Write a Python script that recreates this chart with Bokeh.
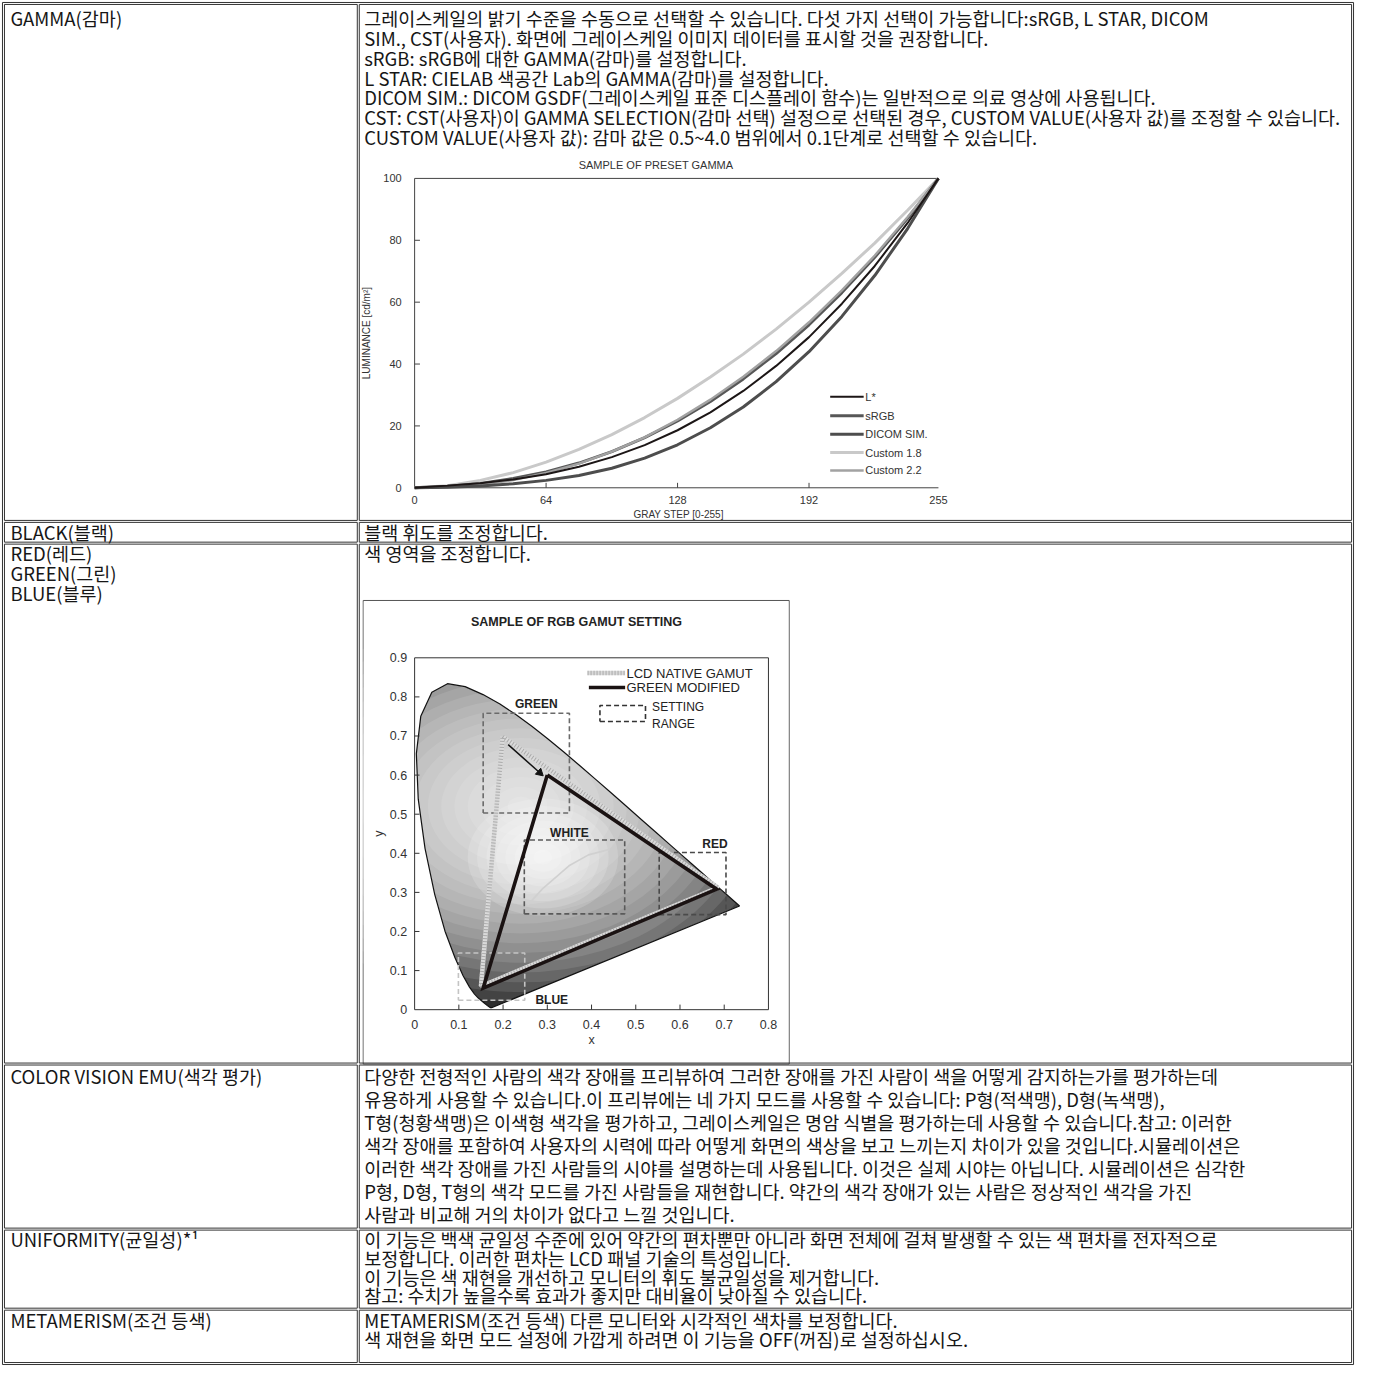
import math
from bokeh.plotting import figure
from bokeh.models import Range1d
from bokeh.core.properties import value
from bokeh.embed import file_html
from bokeh.resources import INLINE

# ------------------------------------------------------------------ data
row_labels = [
    ["GAMMA(감마)"],
    ["BLACK(블랙)"],
    ["RED(레드)", "GREEN(그린)", "BLUE(블루)"],
    ["COLOR VISION EMU(색각 평가)"],
    ["UNIFORMITY(균일성)*¹"],
    ["METAMERISM(조건 등색)"],
]
row_texts = [
    ["그레이스케일의 밝기 수준을 수동으로 선택할 수 있습니다. 다섯 가지 선택이 가능합니다:sRGB, L STAR, DICOM",
     "SIM., CST(사용자). 화면에 그레이스케일 이미지 데이터를 표시할 것을 권장합니다.",
     "sRGB: sRGB에 대한 GAMMA(감마)를 설정합니다.",
     "L STAR: CIELAB 색공간 Lab의 GAMMA(감마)를 설정합니다.",
     "DICOM SIM.: DICOM GSDF(그레이스케일 표준 디스플레이 함수)는 일반적으로 의료 영상에 사용됩니다.",
     "CST: CST(사용자)이 GAMMA SELECTION(감마 선택) 설정으로 선택된 경우, CUSTOM VALUE(사용자 값)를 조정할 수 있습니다.",
     "CUSTOM VALUE(사용자 값): 감마 값은 0.5~4.0 범위에서 0.1단계로 선택할 수 있습니다."],
    ["블랙 휘도를 조정합니다."],
    ["색 영역을 조정합니다."],
    ["다양한 전형적인 사람의 색각 장애를 프리뷰하여 그러한 장애를 가진 사람이 색을 어떻게 감지하는가를 평가하는데",
     "유용하게 사용할 수 있습니다.이 프리뷰에는 네 가지 모드를 사용할 수 있습니다: P형(적색맹), D형(녹색맹),",
     "T형(청황색맹)은 이색형 색각을 평가하고, 그레이스케일은 명암 식별을 평가하는데 사용할 수 있습니다.참고: 이러한",
     "색각 장애를 포함하여 사용자의 시력에 따라 어떻게 화면의 색상을 보고 느끼는지 차이가 있을 것입니다.시뮬레이션은",
     "이러한 색각 장애를 가진 사람들의 시야를 설명하는데 사용됩니다. 이것은 실제 시야는 아닙니다. 시뮬레이션은 심각한",
     "P형, D형, T형의 색각 모드를 가진 사람들을 재현합니다. 약간의 색각 장애가 있는 사람은 정상적인 색각을 가진",
     "사람과 비교해 거의 차이가 없다고 느낄 것입니다."],
    ["이 기능은 백색 균일성 수준에 있어 약간의 편차뿐만 아니라 화면 전체에 걸쳐 발생할 수 있는 색 편차를 전자적으로",
     "보정합니다. 이러한 편차는 LCD 패널 기술의 특성입니다.",
     "이 기능은 색 재현을 개선하고 모니터의 휘도 불균일성을 제거합니다.",
     "참고: 수치가 높을수록 효과가 좋지만 대비율이 낮아질 수 있습니다."],
    ["METAMERISM(조건 등색) 다른 모니터와 시각적인 색차를 보정합니다.",
     "색 재현을 화면 모드 설정에 가깝게 하려면 이 기능을 OFF(꺼짐)로 설정하십시오."],
]

# gamma chart
gamma_title = "SAMPLE OF PRESET GAMMA"
gray_steps = [0, 16, 32, 48, 64, 80, 96, 112, 128, 144, 160, 176, 192, 208, 224, 240, 255]
lum_lstar = [0, 0.7, 1.5, 2.7, 4.4, 6.8, 9.9, 13.8, 18.6, 24.4, 31.3, 39.4, 48.7, 59.5, 71.7, 85.6, 100]
lum_srgb = [0, 0.5, 1.4, 3.0, 5.1, 8.0, 11.7, 16.2, 21.6, 27.9, 35.2, 43.4, 52.7, 63.1, 74.5, 87.1, 100]
lum_dicom = [0, 0.2, 0.6, 1.3, 2.4, 4.0, 6.3, 9.6, 13.9, 19.4, 26.1, 34.3, 44.0, 55.4, 68.6, 83.8, 100]
lum_c18 = [0, 0.7, 2.4, 4.9, 8.3, 12.4, 17.2, 22.7, 28.9, 35.8, 43.2, 51.3, 60.0, 69.3, 79.1, 89.7, 100]
lum_c22 = [0, 0.2, 1.0, 2.5, 4.8, 7.8, 11.7, 16.3, 22.0, 28.5, 35.9, 44.2, 53.5, 63.8, 75.1, 87.5, 100]
gamma_series = ["Custom 1.8", "sRGB", "Custom 2.2", "DICOM SIM.", "L*"]
legend_order = ["L*", "sRGB", "DICOM SIM.", "Custom 1.8", "Custom 2.2"]
gamma_xticks = [0, 64, 128, 192, 255]
gamma_yticks = [0, 20, 40, 60, 80, 100]

# gamut chart
gamut_title = "SAMPLE OF RGB GAMUT SETTING"
locus_x = [0.1741, 0.1714, 0.1644, 0.1566, 0.1440, 0.1355, 0.1241, 0.1096, 0.0913, 0.0687, 0.0454,
           0.0235, 0.0082, 0.0039, 0.0139, 0.0389, 0.0743, 0.1142, 0.1547, 0.1929, 0.2296, 0.2658,
           0.3016, 0.3373, 0.3731, 0.4087, 0.4441, 0.4788, 0.5125, 0.5448, 0.5752, 0.6029, 0.6270,
           0.6482, 0.6658, 0.6801, 0.6915, 0.7079, 0.7347]
locus_y = [0.0050, 0.0051, 0.0109, 0.0177, 0.0297, 0.0399, 0.0578, 0.0868, 0.1327, 0.2007, 0.2950,
           0.4127, 0.5384, 0.6548, 0.7502, 0.8120, 0.8338, 0.8262, 0.8059, 0.7816, 0.7543, 0.7243,
           0.6923, 0.6589, 0.6245, 0.5896, 0.5547, 0.5202, 0.4866, 0.4544, 0.4242, 0.3965, 0.3725,
           0.3514, 0.3340, 0.3197, 0.3083, 0.2920, 0.2653]
native_x = [0.199, 0.686, 0.150, 0.199]
native_y = [0.698, 0.312, 0.060, 0.698]
modified_x = [0.300, 0.683, 0.155, 0.300]
modified_y = [0.600, 0.308, 0.055, 0.600]
planck_x = [0.256, 0.289, 0.349, 0.393, 0.441]
planck_y = [0.268, 0.309, 0.368, 0.396, 0.410]
arrow_x = [0.2115, 0.283]
arrow_y = [0.678, 0.606]
box_names = ["GREEN", "WHITE", "RED", "BLUE"]
box_x0 = [0.155, 0.248, 0.553, 0.099]
box_x1 = [0.350, 0.475, 0.704, 0.249]
box_y0 = [0.503, 0.245, 0.243, 0.024]
box_y1 = [0.758, 0.434, 0.402, 0.145]
box_label_x = [0.275, 0.350, 0.679, 0.310]
box_label_y = [0.782, 0.451, 0.424, 0.024]
gamut_xticks = [0, 0.1, 0.2, 0.3, 0.4, 0.5, 0.6, 0.7, 0.8]
gamut_yticks = [0, 0.1, 0.2, 0.3, 0.4, 0.5, 0.6, 0.7, 0.8, 0.9]

# ------------------------------------------------------------------ styles
KF = "Noto Sans CJK KR"
LF = "Liberation Sans"
BODY = "18.5px"
INK = "#161616"
RULE = "#333333"

COL_X = [4, 361, 1367]
ROW_TOP = [4, 528, 550, 1077, 1244, 1325]
ROW_BOT = [526, 548, 1075, 1242, 1323, 1378]
FIRST_LINE = [18, 538, 559, 1088, 1253, 1335]
LINE_STEP = [20, 20, 20, 23.3, 19, 19]

p = figure(width=1357, height=1366, x_range=Range1d(0, 1373), y_range=Range1d(1382, 0),
           output_backend="svg", toolbar_location=None, tools="", min_border=0,
           x_axis_location=None, y_axis_location=None)
p.grid.visible = False
p.outline_line_color = None
p.background_fill_color = "white"
p.border_fill_color = "white"


def txt(api, xs, ys, texts, size, font=LF, align="left", baseline="middle",
        color=INK, style="normal", angle=0.0):
    api.text(x=xs, y=ys, text=texts, text_font=value(font), text_font_size=size,
             text_align=align, text_baseline=baseline, text_color=color,
             text_font_style=style, angle=angle)


# ================================================================== gamma chart
g = p.subplot(x_source=Range1d(0, 255), y_source=Range1d(0, 100),
              x_target=Range1d(419, 949), y_target=Range1d(493, 180))

gamma_values = {"L*": lum_lstar, "sRGB": lum_srgb, "DICOM SIM.": lum_dicom,
                "Custom 1.8": lum_c18, "Custom 2.2": lum_c22}
gamma_color = {"L*": "#1c1616", "sRGB": "#575757", "DICOM SIM.": "#4d4d4d",
               "Custom 1.8": "#c9c9c9", "Custom 2.2": "#a2a2a2"}
gamma_width = {"L*": 2.0, "sRGB": 3.0, "DICOM SIM.": 3.0, "Custom 1.8": 3.0, "Custom 2.2": 2.4}

g.multi_line(xs=[[0, 0, 255], [0, 255]], ys=[[100, 0, 0], [100, 100]],
             line_color="#444444", line_width=1)
g.segment(x0=gamma_xticks[1:-1], y0=[0] * 3, x1=gamma_xticks[1:-1], y1=[1.6] * 3,
          line_color="#444444", line_width=1)
g.segment(x0=[0] * 4, y0=gamma_yticks[1:-1], x1=[2.6] * 4, y1=gamma_yticks[1:-1],
          line_color="#444444", line_width=1)

for name in gamma_series:
    g.line(gray_steps, gamma_values[name], line_color=gamma_color[name],
           line_width=gamma_width[name])

txt(g, [117.5], [104.2], [gamma_title], "11px", color="#333333", align="center")
txt(g, gamma_xticks, [-3.9] * 5, [str(v) for v in gamma_xticks], "11px",
    color="#333333", align="center")
txt(g, [-6.3] * 6, gamma_yticks, [str(v) for v in gamma_yticks], "11px",
    color="#333333", align="right")
txt(g, [128.5], [-8.6], ["GRAY STEP [0-255]"], "10px", color="#333333", align="center")
txt(g, [-23.2], [50], ["LUMINANCE [cd/m²]"], "10px", color="#333333", align="center",
    angle=math.pi / 2)

leg_y = [29.4, 23.3, 17.3, 11.4, 5.6]
for name, ly in zip(legend_order, leg_y):
    g.line([202.3, 218.6], [ly, ly], line_color=gamma_color[name], line_width=gamma_width[name])
txt(g, [219.4] * 5, leg_y, legend_order, "11px", color="#333333")

# ================================================================== gamut chart
p.quad(left=[367], right=[798], top=[607], bottom=[1076], fill_color=None,
       line_color="#555555", line_width=1)

c = p.subplot(x_source=Range1d(0, 0.8), y_source=Range1d(0, 0.9),
              x_target=Range1d(419, 777), y_target=Range1d(1021, 665))

c.patch(locus_x, locus_y, fill_color="#2e2e2e", line_color=None)
n_glow = 20
for i in range(n_glow):
    k = 1 - i / n_glow
    c.ellipse(x=[0.24], y=[0.52], width=[1.2 * k], height=[1.0 * k],
              fill_color="white", fill_alpha=0.1, line_color=None)
for i in range(8):
    k = 1 - i / 8
    c.ellipse(x=[0.29], y=[0.39], width=[0.34 * k], height=[0.30 * k],
              fill_color="white", fill_alpha=0.16, line_color=None)
mx0, mx1, my0, my1 = -0.115, 0.845, -0.136, 1.044
c.multi_polygons(xs=[[[[mx0, mx1, mx1, mx0], locus_x]]], ys=[[[[my0, my0, my1, my1], locus_y]]],
                 fill_color="white", line_color=None)

c.line(planck_x, planck_y, line_color="#d0d0d0", line_width=1.6)
c.patch(locus_x, locus_y, fill_color=None, line_color="#111111", line_width=1.2)

box_color = ["#6a6a6a", "#5a5a5a", "#4a4a4a", "#c4c4c4"]
for i in range(4):
    c.line([box_x0[i], box_x1[i], box_x1[i], box_x0[i], box_x0[i]],
           [box_y0[i], box_y0[i], box_y1[i], box_y1[i], box_y0[i]],
           line_color=box_color[i], line_width=1.6, line_dash="5 3")

c.line(native_x, native_y, line_color="#dadada", line_width=4.5)
c.line(native_x, native_y, line_color="#ababab", line_width=4.5, line_dash="1 2")
c.line(modified_x, modified_y, line_color="#1a1212", line_width=3.6, line_join="miter")

c.line(arrow_x, arrow_y, line_color="#111111", line_width=1.5)
c.scatter([arrow_x[1]], [arrow_y[1]], marker="triangle", size=8, angle=-132,
          angle_units="deg", fill_color="#111111", line_color="#111111")

txt(c, box_label_x, box_label_y, box_names, "12px", color="#222222", style="bold",
    align="center")

c.line([0, 0.8, 0.8, 0, 0], [0, 0, 0.9, 0.9, 0], line_color="#333333", line_width=1)
c.segment(x0=gamut_xticks[1:-1], y0=[0] * 7, x1=gamut_xticks[1:-1], y1=[0.013] * 7,
          line_color="#333333", line_width=1)
c.segment(x0=[0] * 8, y0=gamut_yticks[1:-1], x1=[0.011] * 8, y1=gamut_yticks[1:-1],
          line_color="#333333", line_width=1)
txt(c, gamut_xticks, [-0.038] * 9, [("%g" % v) for v in gamut_xticks], "12.5px",
    color="#333333", align="center")
txt(c, [-0.017] * 10, gamut_yticks, [("%g" % v) for v in gamut_yticks], "12.5px",
    color="#333333", align="right")
txt(c, [0.4], [-0.077], ["x"], "12.5px", color="#333333", align="center")
txt(c, [-0.08], [0.45], ["y"], "12.5px", color="#333333", align="center", angle=math.pi / 2)
txt(c, [0.366], [0.991], [gamut_title], "12.5px", color="#222222", style="bold", align="center")

c.line([0.391, 0.476], [0.861, 0.861], line_color="#dadada", line_width=4.5)
c.line([0.391, 0.476], [0.861, 0.861], line_color="#ababab", line_width=4.5, line_dash="1 2")
c.line([0.394, 0.476], [0.824, 0.824], line_color="#1a1212", line_width=3.6)
c.line([0.419, 0.522, 0.522, 0.419, 0.419], [0.737, 0.737, 0.778, 0.778, 0.737],
       line_color="#333333", line_width=1.6, line_dash="5 3")
txt(c, [0.479, 0.479], [0.861, 0.824], ["LCD NATIVE GAMUT", "GREEN MODIFIED"], "13px",
    color="#222222")
txt(c, [0.537, 0.537], [0.773, 0.731], ["SETTING", "RANGE"], "12px", color="#222222")

# ================================================================== table
p.quad(left=[2], right=[1369], top=[2], bottom=[1380], fill_color=None,
       line_color=RULE, line_width=1)
for t, b in zip(ROW_TOP, ROW_BOT):
    p.quad(left=[COL_X[0], COL_X[1] + 2], right=[COL_X[1], COL_X[2]], top=[t, t],
           bottom=[b, b], fill_color=None, line_color=RULE, line_width=1)

for labels, texts, y0, step in zip(row_labels, row_texts, FIRST_LINE, LINE_STEP):
    txt(p, [10] * len(labels), [y0 + step * i for i in range(len(labels))], labels,
        BODY, font=KF)
    txt(p, [368] * len(texts), [y0 + step * i for i in range(len(texts))], texts,
        BODY, font=KF)

open("out.html", "w").write(file_html(p, INLINE, title="GAMMA"))
